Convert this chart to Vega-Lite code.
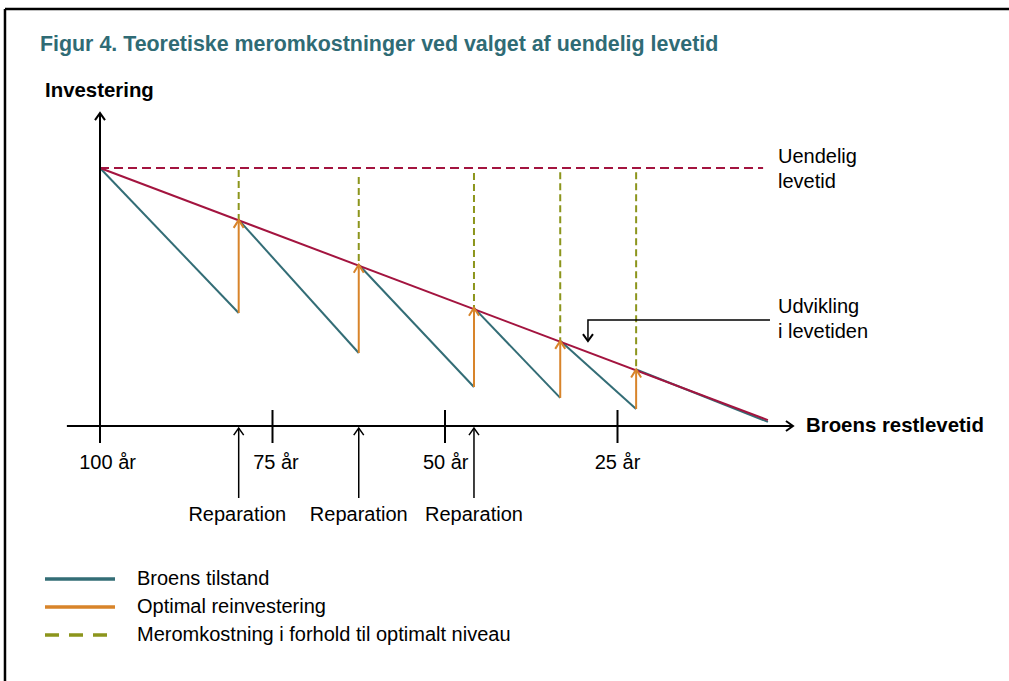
{
  "$schema": "https://vega.github.io/schema/vega-lite/v6.json",
  "width": 1009,
  "height": 681,
  "padding": 0,
  "autosize": {"type": "none"},
  "background": "white",
  "view": {"stroke": null},
  "config": {"font": "Liberation Sans"},
  "datasets": {
    "ramme": [
      {"aar": 113.77, "aar2": -40, "v": 161.6, "v2": 161.6},
      {"aar": 113.77, "aar2": 113.77, "v": 161.6, "v2": -110}
    ],
    "tilstand": [
      {"seg": 1, "aar": 100, "v": 100, "serie": "Broens tilstand"},
      {"seg": 1, "aar": 79.9, "v": 43.8, "serie": "Broens tilstand"},
      {"seg": 2, "aar": 79.9, "v": 79.9, "serie": "Broens tilstand"},
      {"seg": 2, "aar": 62.5, "v": 28.3, "serie": "Broens tilstand"},
      {"seg": 3, "aar": 62.5, "v": 62.5, "serie": "Broens tilstand"},
      {"seg": 3, "aar": 45.8, "v": 15.1, "serie": "Broens tilstand"},
      {"seg": 4, "aar": 45.8, "v": 45.8, "serie": "Broens tilstand"},
      {"seg": 4, "aar": 33.3, "v": 10.9, "serie": "Broens tilstand"},
      {"seg": 5, "aar": 33.3, "v": 33.0, "serie": "Broens tilstand"},
      {"seg": 5, "aar": 22.3, "v": 6.6, "serie": "Broens tilstand"},
      {"seg": 6, "aar": 22.3, "v": 21.9, "serie": "Broens tilstand"},
      {"seg": 6, "aar": 3.2, "v": 1.6, "serie": "Broens tilstand"}
    ],
    "reinvestering": [
      {"aar": 79.9, "v": 43.8, "v2": 79.9, "serie": "Optimal reinvestering"},
      {"aar": 62.5, "v": 28.3, "v2": 62.5, "serie": "Optimal reinvestering"},
      {"aar": 45.8, "v": 15.1, "v2": 45.8, "serie": "Optimal reinvestering"},
      {"aar": 33.3, "v": 10.9, "v2": 33.0, "serie": "Optimal reinvestering"},
      {"aar": 22.3, "v": 6.6, "v2": 21.9, "serie": "Optimal reinvestering"}
    ],
    "meromkostning": [
      {"aar": 79.9, "v": 99.2, "v2": 79.9, "serie": "Meromkostning i forhold til optimalt niveau"},
      {"aar": 62.5, "v": 96.5, "v2": 62.5, "serie": "Meromkostning i forhold til optimalt niveau"},
      {"aar": 45.8, "v": 98.1, "v2": 45.8, "serie": "Meromkostning i forhold til optimalt niveau"},
      {"aar": 33.3, "v": 98.4, "v2": 33.0, "serie": "Meromkostning i forhold til optimalt niveau"},
      {"aar": 22.3, "v": 98.4, "v2": 21.9, "serie": "Meromkostning i forhold til optimalt niveau"}
    ],
    "optimal": [{"aar": 100, "v": 100}, {"aar": 3.2, "v": 2.3}],
    "uendelig": [{"aar": 100, "v": 100}, {"aar": 3.9, "v": 100}],
    "akser": [
      {"aar": 104.8, "aar2": -0.4, "v": 0, "v2": 0},
      {"aar": 100, "aar2": 100, "v": -6.6, "v2": 121.3}
    ],
    "aarstreger": [
      {"aar": 75, "v": 6.2, "v2": -6.6},
      {"aar": 50, "v": 6.2, "v2": -6.6},
      {"aar": 25, "v": 6.2, "v2": -6.6}
    ],
    "aarstal": [
      {"label": "100 år", "aar": 98.9, "v": -16.7},
      {"label": "75 år", "aar": 74.5, "v": -16.7},
      {"label": "50 år", "aar": 49.9, "v": -16.7},
      {"label": "25 år", "aar": 25, "v": -16.7}
    ],
    "reparation": [
      {"aar": 79.9, "v": -0.8, "v2": -27.9},
      {"aar": 62.5, "v": -0.8, "v2": -27.9},
      {"aar": 45.8, "v": -0.8, "v2": -27.9}
    ],
    "reparationstekst": [
      {"tekst": "Reparation", "aar": 80.1, "v": -36.8},
      {"tekst": "Reparation", "aar": 62.5, "v": -36.8},
      {"tekst": "Reparation", "aar": 45.8, "v": -36.8}
    ],
    "pile": [
      {"aar": 100, "v": 121.3, "retning": "op"},
      {"aar": -0.43, "v": 0, "retning": "hoejre"},
      {"aar": 29.28, "v": 32.9, "retning": "ned"}
    ],
    "kommentar": [
      {"o": 1, "aar": 29.28, "v": 32.9},
      {"o": 2, "aar": 29.28, "v": 41.1},
      {"o": 3, "aar": 2.9, "v": 41.1}
    ],
    "noter": [
      {"tekst": "Uendelig", "aar": 1.74, "v": 101.8},
      {"tekst": "levetid", "aar": 1.74, "v": 92.2},
      {"tekst": "Udvikling", "aar": 1.74, "v": 43.8},
      {"tekst": "i levetiden", "aar": 1.74, "v": 34.2}
    ],
    "aksetitler": [
      {"tekst": "Investering", "aar": 107.97, "v": 127.6},
      {"tekst": "Broens restlevetid", "aar": -2.32, "v": -2.2}
    ],
    "titel": [
      {"tekst": "Figur 4. Teoretiske meromkostninger ved valget af uendelig levetid", "aar": 108.7, "v": 145.5}
    ]
  },
  "encoding": {
    "x": {"field": "aar", "type": "quantitative", "axis": null, "scale": {"domain": [114.4928, -31.7391], "nice": false, "zero": false}},
    "y": {"field": "v", "type": "quantitative", "axis": null, "scale": {"domain": [-98.837, 165.116], "nice": false, "zero": false}}
  },
  "layer": [
    {
      "data": {"name": "ramme"},
      "mark": {"type": "rule", "color": "#000000", "strokeWidth": 2.5},
      "encoding": {
        "x2": {"field": "aar2"},
        "y2": {"field": "v2"}
      }
    },
    {
      "data": {"name": "uendelig"},
      "mark": {"type": "line", "color": "#a3143f", "strokeWidth": 2, "strokeDash": [9, 5]},
      "encoding": {}
    },
    {
      "data": {"name": "meromkostning"},
      "mark": {"type": "rule", "strokeWidth": 2, "strokeDash": [7, 4]},
      "encoding": {
        "y2": {"field": "v2"},
        "color": {"field": "serie", "type": "nominal"}
      }
    },
    {
      "data": {"name": "tilstand"},
      "mark": {"type": "line", "strokeWidth": 2},
      "encoding": {
        "detail": {"field": "seg", "type": "nominal"},
        "color": {
          "field": "serie",
          "type": "nominal",
          "scale": {
            "domain": ["Broens tilstand", "Optimal reinvestering", "Meromkostning i forhold til optimalt niveau"],
            "range": ["#336d76", "#d8842a", "#8c951c"]
          },
          "legend": {
            "orient": "none",
            "legendX": 70,
            "legendY": 569,
            "title": null,
            "padding": 0,
            "symbolType": "M-5,0L5,0",
            "symbolSize": 196,
            "symbolStrokeWidth": 3.5,
            "labelFont": "Liberation Sans",
            "labelFontSize": 20,
            "labelColor": "#000000",
            "labelOffset": 47,
            "labelLimit": 1000,
            "rowPadding": 8,
            "encode": {
              "symbols": {
                "update": {
                  "strokeDash": {"signal": "datum.value === 'Meromkostning i forhold til optimalt niveau' ? [14, 10] : [1, 0]"}
                }
              }
            }
          }
        }
      }
    },
    {
      "data": {"name": "optimal"},
      "mark": {"type": "line", "color": "#a3143f", "strokeWidth": 2},
      "encoding": {}
    },
    {
      "data": {"name": "reinvestering"},
      "mark": {"type": "rule", "strokeWidth": 2},
      "encoding": {
        "y2": {"field": "v2"},
        "color": {"field": "serie", "type": "nominal"}
      }
    },
    {
      "data": {"name": "reinvestering"},
      "mark": {"type": "point", "shape": "M-1,1.6L0,0L1,1.6", "filled": false, "stroke": "#d8842a", "strokeWidth": 2, "size": 100, "opacity": 1},
      "encoding": {
        "y": {"field": "v2", "type": "quantitative"}
      }
    },
    {
      "data": {"name": "akser"},
      "mark": {"type": "rule", "color": "#000000", "strokeWidth": 2},
      "encoding": {
        "x2": {"field": "aar2"},
        "y2": {"field": "v2"}
      }
    },
    {
      "data": {"name": "aarstreger"},
      "mark": {"type": "rule", "color": "#000000", "strokeWidth": 2},
      "encoding": {
        "y2": {"field": "v2"}
      }
    },
    {
      "data": {"name": "reparation"},
      "mark": {"type": "rule", "color": "#000000", "strokeWidth": 1.5},
      "encoding": {
        "y2": {"field": "v2"}
      }
    },
    {
      "data": {"name": "reparation"},
      "mark": {"type": "point", "shape": "M-1,1.4L0,0L1,1.4", "filled": false, "stroke": "#000000", "strokeWidth": 1.5, "size": 100, "opacity": 1},
      "encoding": {}
    },
    {
      "data": {"name": "pile"},
      "mark": {"type": "point", "filled": false, "stroke": "#000000", "strokeWidth": 2, "size": 100, "opacity": 1},
      "encoding": {
        "shape": {
          "field": "retning",
          "type": "nominal",
          "legend": null,
          "scale": {
            "domain": ["op", "hoejre", "ned"],
            "range": ["M-1,1.4L0,0L1,1.4", "M-1.4,-1L0,0L-1.4,1", "M-1,-1.4L0,0L1,-1.4"]
          }
        }
      }
    },
    {
      "data": {"name": "kommentar"},
      "mark": {"type": "line", "color": "#000000", "strokeWidth": 1.5},
      "encoding": {
        "order": {"field": "o", "type": "quantitative"}
      }
    },
    {
      "data": {"name": "noter"},
      "mark": {"type": "text", "align": "left", "baseline": "alphabetic", "fontSize": 20, "font": "Liberation Sans", "color": "#000000"},
      "encoding": {"text": {"field": "tekst"}}
    },
    {
      "data": {"name": "aksetitler"},
      "mark": {"type": "text", "align": "left", "baseline": "alphabetic", "fontSize": 20.4, "fontWeight": "bold", "font": "Liberation Sans", "color": "#000000"},
      "encoding": {"text": {"field": "tekst"}}
    },
    {
      "data": {"name": "titel"},
      "mark": {"type": "text", "align": "left", "baseline": "alphabetic", "fontSize": 21.4, "fontWeight": "bold", "font": "Liberation Sans", "color": "#2f6b75"},
      "encoding": {"text": {"field": "tekst"}}
    },
    {
      "data": {"name": "aarstal"},
      "mark": {"type": "text", "align": "center", "baseline": "alphabetic", "fontSize": 20, "font": "Liberation Sans", "color": "#000000"},
      "encoding": {"text": {"field": "label"}}
    },
    {
      "data": {"name": "reparationstekst"},
      "mark": {"type": "text", "align": "center", "baseline": "alphabetic", "fontSize": 20, "font": "Liberation Sans", "color": "#000000"},
      "encoding": {"text": {"field": "tekst"}}
    }
  ]
}
